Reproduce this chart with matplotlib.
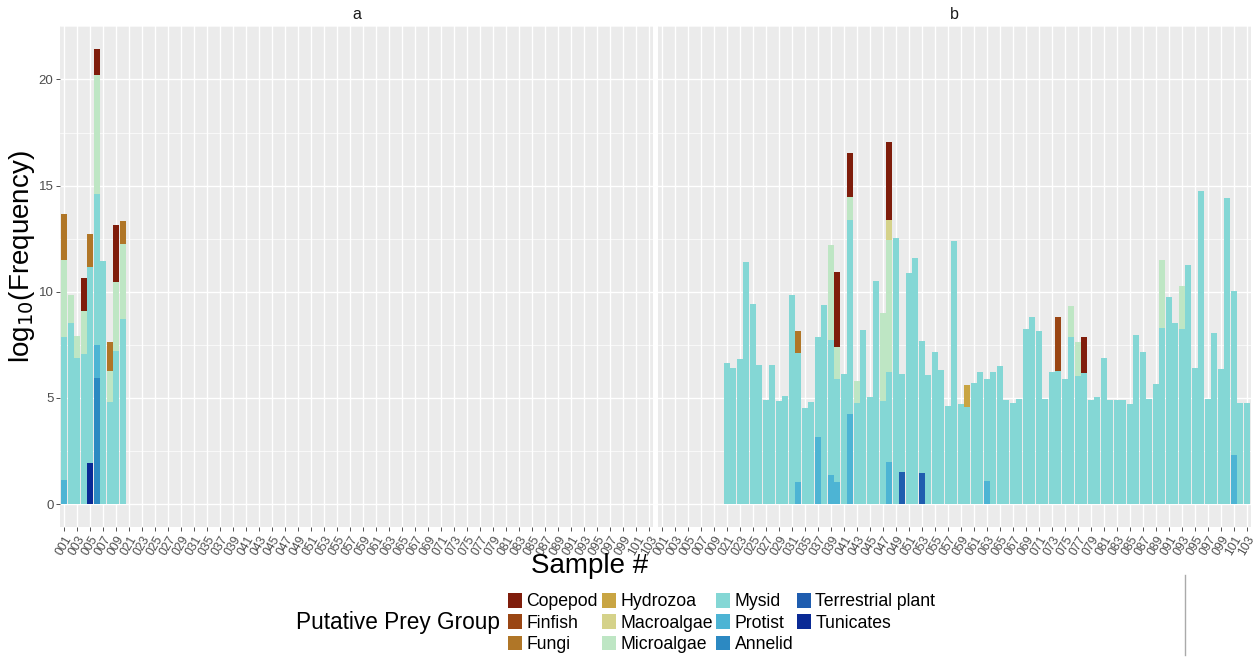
import numpy as np
import matplotlib
matplotlib.use("Agg")
import matplotlib.pyplot as plt
from matplotlib.patches import Patch
from matplotlib.lines import Line2D
from matplotlib.ticker import MultipleLocator

plt.rcParams['font.family'] = ['Liberation Sans', 'DejaVu Sans']

# Sample axis shared by both facets
samples = ([f"{i:03d}" for i in range(1, 11)] + [f"{i:03d}" for i in range(21, 32)]
           + ["033"] + [f"{i:03d}" for i in range(35, 104)])
tick_labels = samples[::2]
samples_a = samples[:10]
samples_b = samples[10:]

# Prey groups (legend order = top of stack first) and their fills
groups = ["Copepod", "Finfish", "Fungi", "Hydrozoa", "Macroalgae", "Microalgae",
          "Mysid", "Protist", "Annelid", "Terrestrial plant", "Tunicates"]
group_colors = ["#7F1D0B", "#9A4614", "#B07627", "#C9A543", "#D5D28A", "#BEE6C4",
                "#84D7D5", "#4DB4D4", "#2C89C2", "#1F5DAF", "#0A2A95"]

# Facet a: log10 frequency contributed by each group
mysid_a = [6.74, 8.53, 6.89, 7.09, 9.26, 7.11, 11.45, 4.82, 7.22, 8.72]
microalgae_a = {"001": 3.63, "002": 1.31, "003": 1.01, "004": 2.01, "006": 5.57,
                "008": 1.44, "009": 3.24, "010": 3.52}
fungi_a = {"001": 2.18, "005": 1.53, "008": 1.38, "010": 1.09}
copepod_a = {"004": 1.55, "006": 1.25, "009": 2.70}
protist_a = {"001": 1.13, "006": 1.56}
annelid_a = {"006": 5.95}
tunicates_a = {"005": 1.91}

# Facet b
mysid_b = [6.62, 6.40, 6.81, 11.40, 9.40, 6.53, 4.89, 6.56, 4.86, 5.10,
           9.85, 6.07, 4.53, 4.80, 4.70, 9.36, 6.39, 4.83, 6.12, 9.16,
           4.78, 8.19, 5.05, 10.49, 4.85, 4.22, 12.55, 4.60, 10.89, 11.58,
           6.21, 6.07, 7.14, 6.31, 4.61, 12.39, 4.71, 4.58, 5.71, 6.23,
           4.78, 6.23, 6.49, 4.89, 4.77, 4.93, 8.24, 8.80, 8.16, 4.93,
           6.23, 6.27, 5.91, 7.87, 6.02, 6.15, 4.89, 5.05, 6.90, 4.89,
           4.89, 4.92, 4.71, 7.98, 7.17, 4.96, 5.66, 8.30, 9.73, 8.53,
           8.25, 11.28, 6.43, 14.73, 4.93, 8.06, 6.38, 14.42, 7.71, 4.78,
           4.77]
protist_b = {"033": 1.05, "037": 3.17, "039": 1.36, "040": 1.05, "042": 4.24,
             "048": 1.98, "063": 1.10, "101": 2.31}
terrestrial_b = {"050": 1.52, "053": 1.46}
microalgae_b = {"039": 4.47, "040": 1.51, "042": 1.06, "043": 1.02, "047": 4.15,
                "048": 6.22, "076": 1.45, "077": 1.60, "090": 3.21, "093": 2.04}
macroalgae_b = {"048": 0.98}
hydrozoa_b = {"060": 1.05}
fungi_b = {"033": 1.02}
finfish_b = {"074": 2.53}
copepod_b = {"040": 3.56, "042": 2.07, "048": 3.65, "078": 1.72}


def to_axis(values, subset):
    """Spread a list (aligned with subset) or a {sample: value} dict over the full axis."""
    out = np.zeros(len(samples))
    if isinstance(values, dict):
        for s, v in values.items():
            out[samples.index(s)] = v
    else:
        for s, v in zip(subset, values):
            out[samples.index(s)] = v
    return out


facet_a = {
    "Mysid": to_axis(mysid_a, samples_a),
    "Microalgae": to_axis(microalgae_a, samples_a),
    "Fungi": to_axis(fungi_a, samples_a),
    "Copepod": to_axis(copepod_a, samples_a),
    "Protist": to_axis(protist_a, samples_a),
    "Annelid": to_axis(annelid_a, samples_a),
    "Tunicates": to_axis(tunicates_a, samples_a),
}
facet_b = {
    "Mysid": to_axis(mysid_b, samples_b),
    "Protist": to_axis(protist_b, samples_b),
    "Terrestrial plant": to_axis(terrestrial_b, samples_b),
    "Microalgae": to_axis(microalgae_b, samples_b),
    "Macroalgae": to_axis(macroalgae_b, samples_b),
    "Hydrozoa": to_axis(hydrozoa_b, samples_b),
    "Fungi": to_axis(fungi_b, samples_b),
    "Finfish": to_axis(finfish_b, samples_b),
    "Copepod": to_axis(copepod_b, samples_b),
}

W, H = 1258, 657
fig = plt.figure(figsize=(W / 100, H / 100), dpi=100)
fig.patch.set_facecolor("white")

y0, y1 = 526.8, 26.1
panel_w = 592.8
ax_a = fig.add_axes([60.4 / W, (H - y0) / H, panel_w / W, (y0 - y1) / H])
ax_b = fig.add_axes([657.8 / W, (H - y0) / H, panel_w / W, (y0 - y1) / H])

x = np.arange(len(samples))
ymax = 21.44
for ax, data, strip in ((ax_a, facet_a, "a"), (ax_b, facet_b, "b")):
    ax.set_facecolor("#EBEBEB")
    bottom = np.zeros(len(samples))
    for g, c in zip(reversed(groups), reversed(group_colors)):
        if g not in data:
            continue
        vals = data[g]
        ax.bar(x, vals, bottom=bottom, width=0.9, color=c, linewidth=0, zorder=3)
        bottom = bottom + vals
    ax.set_xlim(-0.6, len(samples) - 0.4)
    ax.set_ylim(-0.05 * ymax, 1.05 * ymax)
    ax.set_xticks(x[::2])
    ax.set_xticklabels(tick_labels, rotation=60, ha="right", rotation_mode="anchor",
                       fontsize=8.8, color="#4D4D4D")
    ax.yaxis.set_major_locator(MultipleLocator(5))
    ax.yaxis.set_minor_locator(MultipleLocator(2.5))
    ax.grid(which="major", color="white", linewidth=1.0, zorder=0)
    ax.grid(which="minor", axis="y", color="white", linewidth=0.5, zorder=0)
    ax.set_axisbelow(True)
    for sp in ax.spines.values():
        sp.set_visible(False)
    ax.tick_params(axis="both", which="major", length=3, width=0.6, color="#333333",
                   labelsize=8.8, labelcolor="#4D4D4D", pad=2)
    ax.tick_params(axis="y", which="minor", length=0)
    ax.tick_params(axis="y", labelsize=9.5)
    ax.set_title(strip, fontsize=11.5, color="#1A1A1A", pad=5)

ax_b.tick_params(axis="y", which="both", left=False, labelleft=False)

fig.text(22 / W, (H - 257) / H, r"log$_{10}$(Frequency)", rotation=90,
         ha="center", va="center", fontsize=20, color="black")
fig.text(590 / W, (H - 566) / H, "Sample #", ha="center", va="center",
         fontsize=20, color="black")

# Legend: title on the left, keys filled column by column
fig.text(296 / W, (H - 622) / H, "Putative Prey Group", ha="left", va="center",
         fontsize=16.3, color="black")
handles = [Patch(facecolor=c, edgecolor="none") for c in group_colors]
fig.legend(handles, groups, ncol=4, loc="upper left",
           bbox_to_anchor=(508 / W, (H - 593) / H), frameon=False, fontsize=12.7,
           handlelength=0.8, handleheight=0.9, handletextpad=0.25,
           columnspacing=0.2, labelspacing=0.22, borderpad=0, borderaxespad=0)

fig.add_artist(Line2D([1185 / W, 1185 / W], [2 / H, 82 / H], color="#AAAAAA",
                      linewidth=1.0, transform=fig.transFigure))

fig.savefig("out.png", dpi=100, facecolor="white")
